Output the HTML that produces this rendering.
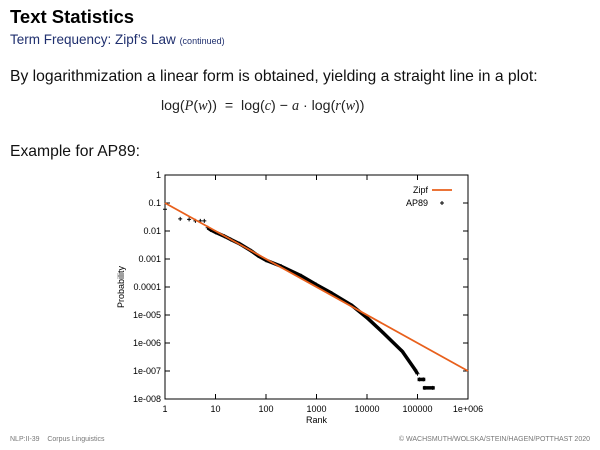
<!DOCTYPE html>
<html><head><meta charset="utf-8"><style>
body{margin:0;width:600px;height:450px;background:#fff;font-family:"Liberation Sans",sans-serif;position:relative;overflow:hidden}
.t{position:absolute;white-space:nowrap}
</style></head><body>
<div class="t" style="left:10px;top:6px;font-size:18.5px;font-weight:bold;color:#000">Text Statistics</div>
<div class="t" style="left:10px;top:32px;font-size:13.5px;color:#1f2f6e">Term Frequency: Zipf’s Law <span style="font-size:9px">(continued)</span></div>
<div class="t" style="left:10px;top:68px;font-size:15.7px;color:#111">By logarithmization a linear form is obtained, yielding a straight line in a plot:</div>
<div class="t" style="left:161px;top:98px;font-size:14.2px;color:#222">log(<i style="font-family:'Liberation Serif',serif">P</i>(<i style="font-family:'Liberation Serif',serif">w</i>)) &nbsp;= &nbsp;log(<i style="font-family:'Liberation Serif',serif">c</i>) − <i style="font-family:'Liberation Serif',serif">a</i> · log(<i style="font-family:'Liberation Serif',serif">r</i>(<i style="font-family:'Liberation Serif',serif">w</i>))</div>
<div class="t" style="left:10px;top:143px;font-size:15.7px;color:#111">Example for AP89:</div>
<svg id="chart" width="600" height="450" style="position:absolute;left:0;top:0" font-family="Liberation Sans, sans-serif"></svg>
<div class="t" style="left:10px;top:436px;font-size:7px;color:#777">NLP:II-39 &nbsp;&nbsp; Corpus Linguistics</div>
<div class="t" style="right:10px;top:436px;font-size:7px;color:#777">© WACHSMUTH/WOLSKA/STEIN/HAGEN/POTTHAST 2020</div>
<script>
const ranks=[1,2,3,4,5,6,7,8,10,15,20,30,50,70,100,200,500,1000,2000,5000,10000,20000,50000,90000,100000,110000,130000,140000,200000];
const probs=[0.06,0.027,0.026,0.023,0.023,0.023,0.013,0.011,0.009,0.0065,0.005,0.0035,0.002,0.0013,0.0009,0.00055,0.00025,0.00012,0.00006,0.000022,0.000008,0.0000025,0.0000005,0.00000011,0.00000008,0.00000005,0.00000005,0.000000025,0.000000025];
const xTicks=[1,10,100,1000,10000,100000,1000000];
const xTickLabels=["1","10","100","1000","10000","100000","1e+006"];
const yTicks=[1,0.1,0.01,0.001,0.0001,1e-5,1e-6,1e-7,1e-8];
const yTickLabels=["1","0.1","0.01","0.001","0.0001","1e-005","1e-006","1e-007","1e-008"];
const zipfC=0.1, zipfA=1;
const L=165,R=468,T=175,B=399;
const X=r=>L+Math.log10(r)/6*(R-L);
const Y=p=>T+(-Math.log10(p))/8*(B-T);
const svg=document.getElementById('chart');const NS='http://www.w3.org/2000/svg';
function mk(t,a,p){const e=document.createElementNS(NS,t);for(const k in a)e.setAttribute(k,a[k]);(p||svg).appendChild(e);return e;}
const frame=mk('rect',{x:L,y:T,width:R-L,height:B-T,fill:'none',stroke:'#000','stroke-width':1});


xTicks.forEach((v,i)=>{const x=X(v);
 mk('line',{x1:x,y1:B,x2:x,y2:B-5,stroke:'#000'});mk('line',{x1:x,y1:T,x2:x,y2:T+5,stroke:'#000'});
 const t=mk('text',{x:x,y:B+13,'font-size':9,'text-anchor':'middle'});t.textContent=xTickLabels[i];
 
 });
yTicks.forEach((v,i)=>{const y=Y(v);
 mk('line',{x1:L,y1:y,x2:L+5,y2:y,stroke:'#000'});mk('line',{x1:R,y1:y,x2:R-5,y2:y,stroke:'#000'});
 const t=mk('text',{x:L-4,y:y+3,'font-size':9,'text-anchor':'end'});t.textContent=yTickLabels[i];
 
 });
const xt=mk('text',{x:(L+R)/2,y:B+24,'font-size':9,'text-anchor':'middle'});xt.textContent='Rank';


const yt=mk('text',{x:0,y:0,'font-size':9,'text-anchor':'middle',transform:`translate(124,${(T+B)/2}) rotate(-90)`});yt.textContent='Probability';


const dense=ranks.map((r,i)=>[r,probs[i]]).filter(d=>d[0]>=7&&d[0]<=100000);
const pl=mk('polyline',{points:dense.map(d=>X(d[0])+','+Y(d[1])).join(' '),fill:'none',stroke:'#000','stroke-width':3.5,'stroke-linejoin':'round'});


ranks.forEach((r,i)=>{const x=X(r),y=Y(probs[i]);const g=mk('path',{d:`M${x-2},${y}H${x+2}M${x},${y-2}V${y+2}`,stroke:'#000','stroke-width':1});
 
 });
const tail=ranks.map((r,i)=>[r,probs[i]]).filter(d=>d[0]>=110000);
for(let j=0;j<tail.length-1;j+=2){const a=tail[j],b=tail[j+1];const s=mk('line',{x1:X(a[0])-2,y1:Y(a[1]),x2:X(b[0])+2,y2:Y(b[1]),stroke:'#000','stroke-width':3.5});
 
 }
const zl=mk('line',{x1:X(1),y1:Y(zipfC),x2:X(1e6),y2:Y(zipfC/Math.pow(1e6,zipfA)),stroke:'#e8601c','stroke-width':1.8});


const l1=mk('text',{x:428,y:193,'font-size':9,'text-anchor':'end'});l1.textContent='Zipf';


mk('line',{x1:432,y1:190,x2:452,y2:190,stroke:'#e8601c','stroke-width':1.8});
const l2=mk('text',{x:428,y:206,'font-size':9,'text-anchor':'end'});l2.textContent='AP89';


mk('path',{d:'M440,203H444M442,201V205',stroke:'#000'});
</script>
</body></html>
